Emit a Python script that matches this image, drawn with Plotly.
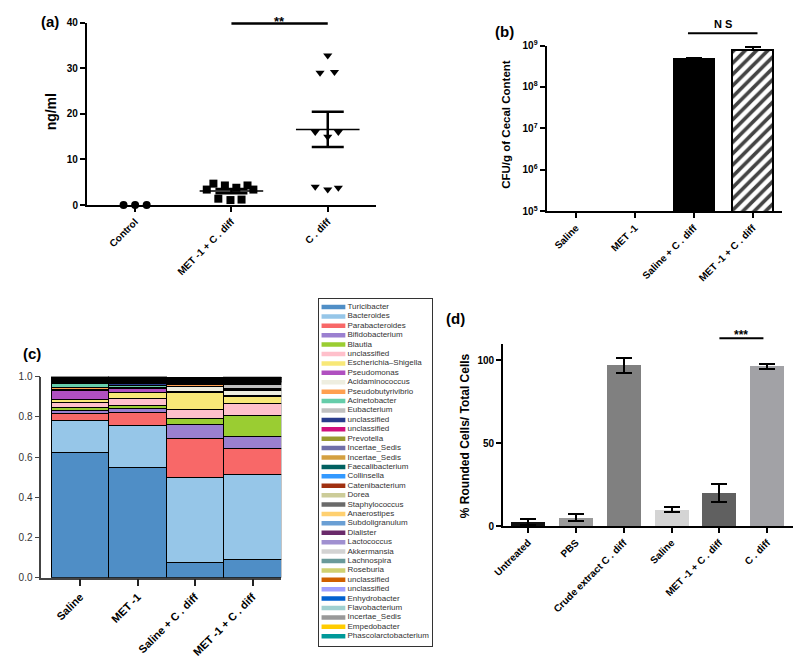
import numpy as np
import plotly.graph_objects as go

# ---------------- data ----------------
# Panel (a): toxin level (ng/ml)
a_groups = ["Control", "MET -1 + C . diff", "C . diff"]
a_control = [0.0, 0.0, 0.0]
a_met_cdiff = [3.4, 4.7, 1.4, 4.3, 1.1, 3.8, 1.2, 4.3, 3.4]
a_cdiff = [29.0, 32.8, 29.2, 16.0, 15.0, 16.0, 4.0, 3.4, 3.8]

# Panel (b): CFU/g of cecal content
b_groups = ["Saline", "MET -1", "Saline + C . diff", "MET -1 + C . diff"]
b_values = [None, None, 4.67e8, 7.7e8]
b_err = [0, 0, 0.33e8, 1.6e8]
b_tickvals = [1e5, 1e6, 1e7, 1e8, 1e9]
b_ticktext = ["10<sup>5</sup>", "10<sup>6</sup>", "10<sup>7</sup>", "10<sup>8</sup>", "10<sup>9</sup>"]

# Panel (c): relative abundance
c_groups = ["Saline", "MET -1", "Saline + C . diff", "MET -1 + C . diff"]
c_taxa = ["Turicibacter", "Bacteroides", "Parabacteroides", "Bifidobacterium", "Blautia",
          "unclassified", "Escherichia\u2013Shigella", "Pseudomonas", "Acidaminococcus",
          "Pseudobutyrivibrio", "Acinetobacter", "Eubacterium", "unclassified", "unclassified",
          "Prevotella", "Incertae_Sedis", "Incertae_Sedis", "Faecalibacterium", "Collinsella",
          "Catenibacterium", "Dorea", "Staphylococcus", "Anaerostipes", "Subdoligranulum",
          "Dialister", "Lactococcus", "Akkermansia", "Lachnospira", "Roseburia", "unclassified",
          "unclassified", "Enhydrobacter", "Flavobacterium", "Incertae_Sedis", "Empedobacter",
          "Phascolarctobacterium"]
c_saline = [0.622, 0.160, 0.036, 0.015, 0.016, 0.024, 0.011, 0.048, 0.004, 0.009, 0.020,
            0.002, 0.003, 0.001, 0.002, 0.002, 0.001, 0.002, 0.001, 0.001, 0.002, 0.001,
            0.001, 0.002, 0.001, 0.001, 0.002, 0.001, 0.001, 0.001, 0.001, 0.002, 0.001,
            0.001, 0.001, 0.001]
c_met = [0.548, 0.207, 0.068, 0.019, 0.013, 0.035, 0.029, 0.020, 0.003, 0.006, 0.006,
         0.003, 0.010, 0.002, 0.002, 0.001, 0.002, 0.002, 0.001, 0.002, 0.001, 0.002,
         0.001, 0.002, 0.001, 0.001, 0.002, 0.001, 0.001, 0.002, 0.001, 0.002, 0.001,
         0.001, 0.001, 0.001]
c_saline_cdiff = [0.076, 0.420, 0.195, 0.072, 0.030, 0.042, 0.088, 0.002, 0.027, 0.008, 0.002,
                  0.004, 0.002, 0.001, 0.003, 0.002, 0.003, 0.002, 0.001, 0.001, 0.002, 0.001,
                  0.002, 0.001, 0.001, 0.001, 0.001, 0.001, 0.001, 0.001, 0.001, 0.004, 0.0,
                  0.0, 0.0, 0.0]
c_met_cdiff = [0.089, 0.426, 0.127, 0.059, 0.106, 0.062, 0.032, 0.004, 0.026, 0.006, 0.003,
               0.022, 0.004, 0.005, 0.002, 0.001, 0.002, 0.001, 0.001, 0.002, 0.001, 0.002,
               0.001, 0.001, 0.002, 0.001, 0.001, 0.002, 0.001, 0.001, 0.001, 0.001, 0.001,
               0.001, 0.001, 0.001]
c_colors = ["#4f8ec6", "#96c6e8", "#f86868", "#9b80d0", "#9acd32", "#ffc0cb", "#f8e878",
            "#b050c0", "#eeeee0", "#ffa050", "#66cdaa", "#c0c0c0", "#283c8c", "#d0107c",
            "#9a9a30", "#7070a8", "#d4a040", "#006060", "#3399ff", "#a03010", "#cccc99",
            "#6a6a6a", "#ffd070", "#6a9fd4", "#6a2a6a", "#a090d0", "#d3d3d3", "#6a9a9a",
            "#d0d070", "#d06000", "#a0a0ff", "#0060d0", "#a0d0d0", "#999999", "#ffcc00",
            "#009999"]

# Panel (d): % rounded cells
d_groups = ["Untreated", "PBS", "Crude extract C . diff", "Saline", "MET -1 + C . diff", "C . diff"]
d_values = [2.4, 5.1, 97.0, 9.9, 19.9, 96.4]
d_err = [2.0, 2.0, 4.6, 1.4, 5.6, 1.6]
d_colors = ["#111111", "#9a9a9a", "#808080", "#d4d4d4", "#606060", "#a2a2a6"]

# ---------------- layout helpers ----------------
W, H = 800, 669
def PX(x):
    return x / W
def PY(y):
    return 1 - y / H

FONT = "Liberation Sans, Arial, sans-serif"
fig = go.Figure()

# jitter offsets (presentation only)
a_jitter = [
    [-0.12, 0.0, 0.12],
    [-0.256, -0.187, -0.136, -0.068, -0.01, 0.051, 0.105, 0.167, 0.228],
    [-0.08, 0.0, 0.07, -0.13, 0.0, 0.11, -0.13, 0.0, 0.11],
]
a_data = [a_control, a_met_cdiff, a_cdiff]
a_symbols = ["circle", "square", "triangle-down"]

for gi, vals in enumerate(a_data):
    xs = [gi + j for j in a_jitter[gi]]
    fig.add_trace(go.Scatter(x=xs, y=vals, mode="markers", xaxis="x", yaxis="y",
                             cliponaxis=False,
                             marker=dict(symbol=a_symbols[gi], size=8, color="black",
                                         line=dict(width=0))))
for gi, vals in enumerate(a_data):
    v = np.array(vals)
    m = v.mean()
    if m == 0:
        continue
    sem = v.std(ddof=1) / np.sqrt(len(v))
    fig.add_trace(go.Scatter(x=[gi - 0.33, gi + 0.33], y=[m, m], mode="lines",
                             xaxis="x", yaxis="y", cliponaxis=False,
                             line=dict(color="black", width=1.5)))
    fig.add_trace(go.Scatter(x=[gi], y=[m], mode="markers", xaxis="x", yaxis="y",
                             marker=dict(size=1, color="rgba(0,0,0,0)"),
                             error_y=dict(type="data", array=[sem], color="black",
                                          thickness=2.5, width=16)))

# Panel b
fig.add_trace(go.Bar(x=list(range(4)), y=b_values, xaxis="x2", yaxis="y2", width=0.69,
                     marker=dict(color=["black", "black", "black", "white"],
                                 line=dict(color="black", width=2),
                                 pattern=dict(shape=["", "", "", "/"], fgcolor="black",
                                              bgcolor="white", fgopacity=1, size=8,
                                              solidity=0.45)),
                     error_y=dict(type="data", array=b_err, arrayminus=[0, 0, 0, 0],
                                  symmetric=False, color="black", thickness=2, width=8)))

# Panel c
for ti, name in enumerate(c_taxa):
    fig.add_trace(go.Bar(x=list(range(4)),
                         y=[c_saline[ti], c_met[ti], c_saline_cdiff[ti], c_met_cdiff[ti]],
                         xaxis="x3", yaxis="y3", width=1.0, cliponaxis=False,
                         marker=dict(color=c_colors[ti], line=dict(color="black", width=1)),
                         name=name))

# Legend panel (drawn as its own small axes)
idx = list(range(len(c_taxa)))
fig.add_trace(go.Scatter(x=[0.125] * len(c_taxa), y=idx, mode="markers", xaxis="x4", yaxis="y4",
                         marker=dict(symbol="line-ew", size=17,
                                     line=dict(color=c_colors, width=4.5))))
fig.add_trace(go.Scatter(x=[0.25] * len(c_taxa), y=idx, mode="text", xaxis="x4", yaxis="y4",
                         text=c_taxa, textposition="middle right", cliponaxis=False,
                         textfont=dict(family=FONT, size=8, color="#333333")))

# Panel d
fig.add_trace(go.Bar(x=list(range(6)), y=d_values, xaxis="x5", yaxis="y5", width=0.71,
                     marker=dict(color=d_colors, line=dict(width=0)),
                     error_y=dict(type="data", array=d_err, color="black", thickness=2, width=8)))

def ax(**kw):
    d = dict(showline=True, linecolor="black", linewidth=2, ticks="outside", ticklen=5,
             tickwidth=2, tickcolor="black", showgrid=False, zeroline=False,
             tickfont=dict(family=FONT, size=10, color="black", weight="bold"))
    d.update(kw)
    return d

fig.update_layout(
    width=W, height=H, margin=dict(l=0, r=0, t=0, b=0), showlegend=False,
    paper_bgcolor="white", plot_bgcolor="white", barmode="stack",
    font=dict(family=FONT),
    xaxis=ax(domain=[PX(77), PX(370)], range=[-0.5, 2.5], tickvals=[0, 1, 2],
             ticktext=a_groups, tickangle=-45, anchor="y"),
    yaxis=ax(domain=[PY(202), PY(16)], range=[0, 40], dtick=10, anchor="x"),
    xaxis2=ax(domain=[PX(543), PX(782)], range=[-0.5, 3.5], tickvals=[0, 1, 2, 3],
              ticktext=b_groups, tickangle=-45, anchor="y2"),
    yaxis2=ax(domain=[PY(208.3), PY(39.3)], type="log", range=[5, 9], tickvals=b_tickvals,
              ticktext=b_ticktext, anchor="x2"),
    xaxis3=ax(domain=[PX(30.7), PX(274)], range=[-0.677, 3.5], tickvals=[0, 1, 2, 3],
              ticktext=c_groups, tickangle=-45, anchor="y3", linecolor="#444", linewidth=1.5,
              tickcolor="#222", ticklen=7, tickfont=dict(family=FONT, size=11, color="black", weight="bold")),
    yaxis3=ax(domain=[PY(582), PY(377)], range=[0, 1.0], tickvals=[0, 0.2, 0.4, 0.6, 0.8, 1.0],
              tickformat=".1f", anchor="x3", linecolor="#444", linewidth=1.5, tickcolor="#444",
              tickwidth=1, tickfont=dict(family=FONT, size=10, color="#333", weight="normal")),
    xaxis4=dict(domain=[PX(312.7), PX(426.7)], range=[0, 1], anchor="y4", showline=True,
                mirror=True, linecolor="#333", linewidth=1, showticklabels=False, ticks="",
                showgrid=False, zeroline=False),
    yaxis4=dict(domain=[PY(651.7), PY(297.3)], range=[36.04, -0.9], anchor="x4", showline=True,
                mirror=True, linecolor="#333", linewidth=1, showticklabels=False, ticks="",
                showgrid=False, zeroline=False),
    xaxis5=ax(domain=[PX(499), PX(793)], range=[-0.52, 5.54], tickvals=list(range(6)),
              ticktext=d_groups, tickangle=-45, anchor="y5"),
    yaxis5=ax(domain=[PY(529.3), PY(343.3)], range=[0, 110], tickvals=[0, 50, 100], anchor="x5"),
)

bold = dict(family=FONT, color="black", weight="bold")
annots = [
    dict(text="(a)", x=PX(40), y=PY(15), size=15),
    dict(text="(b)", x=PX(500), y=PY(25), size=15),
    dict(text="(c)", x=PX(21), y=PY(353), size=15),
    dict(text="(d)", x=PX(451), y=PY(318), size=15),
]
for a in annots:
    fig.add_annotation(text=a["text"], x=a["x"], y=a["y"], xref="paper", yref="paper",
                       showarrow=False, xanchor="center", yanchor="middle",
                       font=dict(size=a["size"], **bold))
# axis titles
for txt, x, y, s in [("ng/ml", 40, 107, 14), ("CFU/g of Cecal Content", 502, 120, 11.5),
                     ("% Rounded Cells/ Total Cells", 460, 437, 12)]:
    fig.add_annotation(text=txt, x=PX(x), y=PY(y), xref="paper", yref="paper", textangle=-90,
                       showarrow=False, xanchor="center", yanchor="middle", font=dict(size=s, **bold))

# significance marks
fig.add_shape(type="line", xref="x", yref="paper", x0=1.0, x1=2.0, y0=PY(16.7), y1=PY(16.7),
              line=dict(color="black", width=2.5))
fig.add_annotation(text="**", xref="x", yref="paper", x=1.5, y=PY(15), showarrow=False,
                   yanchor="middle", font=dict(size=13, **bold))
fig.add_shape(type="line", xref="x2", yref="paper", x0=1.9, x1=3.08, y0=PY(26.7), y1=PY(26.7),
              line=dict(color="black", width=2))
fig.add_annotation(text="N S", xref="x2", yref="paper", x=2.5, y=PY(17.5), showarrow=False,
                   yanchor="middle", font=dict(size=11, **bold))
fig.add_shape(type="line", xref="x5", yref="paper", x0=4.0, x1=4.92, y0=PY(337.7), y1=PY(337.7),
              line=dict(color="black", width=2))
fig.add_annotation(text="***", xref="x5", yref="paper", x=4.46, y=PY(335), showarrow=False,
                   yanchor="middle", font=dict(size=12, **bold))

fig.write_html("out.html", config={"displayModeBar": False},
               post_script="document.body.style.margin='0';document.body.style.overflow='hidden';")
